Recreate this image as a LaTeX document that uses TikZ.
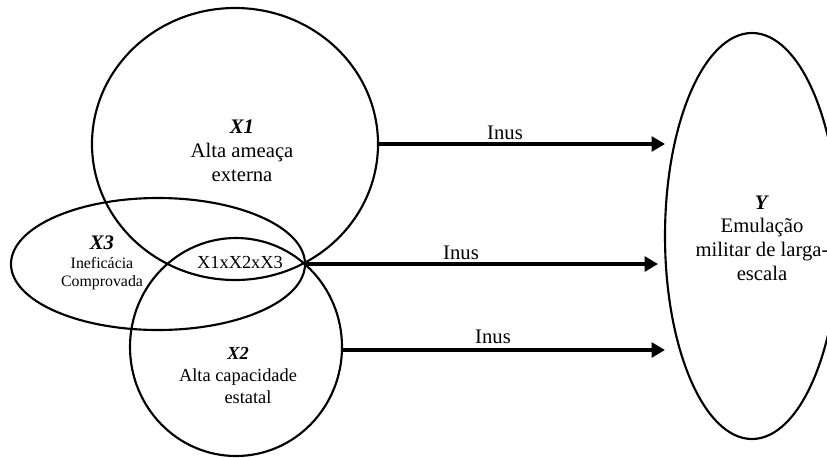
\documentclass[tikz,border=0pt]{standalone}
\usepackage{fontspec}
\setmainfont{Liberation Serif}
\usetikzlibrary{shapes.geometric,arrows.meta}
\begin{document}
\begin{tikzpicture}[x=0.75pt,y=-0.75pt,
  circ/.style={draw, ellipse, line width=1.6pt, inner sep=0pt, outer sep=0pt},
  lbl/.style={align=center, font=\fontsize{13.8}{16.5}\selectfont, inner sep=0pt},
  big/.style={align=center, font=\fontsize{15.5}{17.8}\selectfont, inner sep=0pt},
  small/.style={align=center, font=\fontsize{11.9}{13.5}\selectfont, inner sep=0pt},
  conn/.style={line width=2.8pt, -{Triangle[length=10pt,width=11pt]}},
  ]
\useasboundingbox (0,0) rectangle (827,457);
% ellipses
\node[circ, minimum width=214.5pt, minimum height=204pt] (X1) at (235,144) {};
\node[circ, minimum width=220.5pt, minimum height=99pt] (X3) at (158,264) {};
\node[circ, minimum width=159pt, minimum height=163.5pt] (X2) at (236,347) {};
\node[circ, minimum width=130.5pt, minimum height=304.5pt] (Y) at (752,236) {};
% texts
\node[big] (tX1) at (242,151) {\textbf{\textit{X1}}\\Alta ameaça\\externa};
\node[lbl] (tX2) at (238,375) {\textbf{\textit{X2}}\\Alta capacidade\\\hspace*{15pt}estatal};
\node[big] (tX3a) at (102,243) {\textbf{\textit{X3}}};
\node[small] (tX3b) at (102,274) {Ineficácia\\Comprovada};
\node[lbl] (tint) at (240,262) {X1xX2xX3};
\node[big] (tY) at (762,238) {\textbf{\textit{Y}}\\Emulação\\militar de larga-\\escala};
% arrow ends
\coordinate (t1) at (665,144);
\coordinate (t2) at (658,264);
\coordinate (t3) at (665,350);
\draw[conn] (X1.east) -- (t1);
\draw[conn] (X3.east) -- (t2);
\draw[conn] (X2.east |- t3) -- (t3);
% labels
\node[big] (i1) at (505,133) {Inus};
\node[big] (i2) at (461,253) {Inus};
\node[big] (i3) at (493,337) {Inus};
\end{tikzpicture}
\end{document}
